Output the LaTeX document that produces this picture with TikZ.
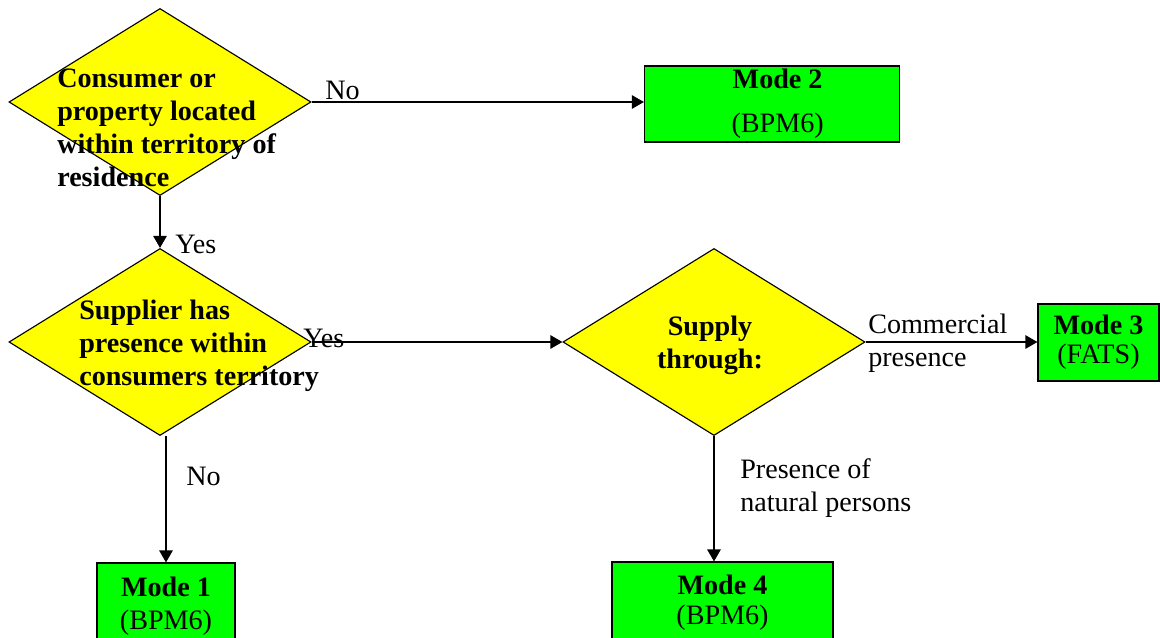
\documentclass[tikz,border=0pt]{standalone}
\usepackage{fontspec}
\setmainfont{Liberation Serif}
\usetikzlibrary{shapes.geometric,arrows.meta}
\definecolor{dyellow}{RGB}{255,255,0}
\definecolor{mgreen}{RGB}{0,255,0}

\begin{document}
\begin{tikzpicture}[%
			x=0.025cm, y=-0.025cm,
			every node/.style={font=\fontsize{20}{23.5}\selectfont},
			decision/.style={shape=diamond, draw, line width=0.8pt, fill=dyellow,
				minimum width=7.55cm, minimum height=4.675cm, inner sep=0pt},
			question/.style={anchor=west, align=left, inner sep=0pt, font=\fontsize{20}{23.5}\selectfont\bfseries},
			mode/.style={draw, line width=0.8pt, fill=mgreen, align=center, inner sep=0pt},
			answer/.style={anchor=west, align=left, inner sep=0pt},
			flow/.style={line width=1pt, -{Triangle[length=8.5pt, width=9.5pt]}}
			]
			\useasboundingbox (0,0) rectangle (1160,638);
			% decisions
			\node[decision] (1) at (160,102) {};
			\node[decision] (2) at (160,342) {};
			\node[decision] (3) at (714,342) {};
			\node[question] (1txt) at (57,128) {Consumer or\\ property located\\ within territory of\\ residence};
			\node[question] (2txt) at (79,346) {Supplier has\\ presence within\\ consumers territory};
			\node[question, anchor=center, align=center] (3txt) at (710,345) {Supply\\ through:};
			% modes
			\node[mode, minimum width=6.375cm, minimum height=1.9cm] (m2) at (772,104)
				{\hspace*{8pt}\textbf{Mode 2}\\[8pt] \hspace*{8pt}(BPM6)};
			\node[mode, minimum width=3.025cm, minimum height=1.925cm] (m3) at (1098.5,342.5)
				{\textbf{Mode 3}\\[-3pt] (FATS)};
			\node[mode, minimum width=3.45cm, minimum height=2.15cm] (m1) at (166,606)
				{\textbf{Mode 1}\\ (BPM6)};
			\node[mode, minimum width=5.525cm, minimum height=2.05cm] (m4) at (722.5,603)
				{\textbf{Mode 4}\\[-2pt] (BPM6)};
			% connectors
			\draw[flow] (1.east) -- (1.east -| m2.west);
			\draw[flow] (1.south) -- (2.north);
			\draw[flow] (2.east) -- (3.west);
			\draw[flow] (2.south -| m1.north) -- (m1.north);
			\draw[flow] (3.east) -- (3.east -| m3.west);
			\draw[flow] (3.south) -- (3.south |- m4.north);
			% answers
			\node[answer] (no1) at (325,90) {No};
			\node[answer] (yes1) at (175,244) {Yes};
			\node[answer] (yes2) at (303,338) {Yes};
			\node[answer] (no2) at (186,476) {No};
			\node[answer] (comm) at (868,343) {Commercial\\ presence};
			\node[answer] (nat) at (740,488) {Presence of\\ natural persons};
		\end{tikzpicture}
\end{document}
